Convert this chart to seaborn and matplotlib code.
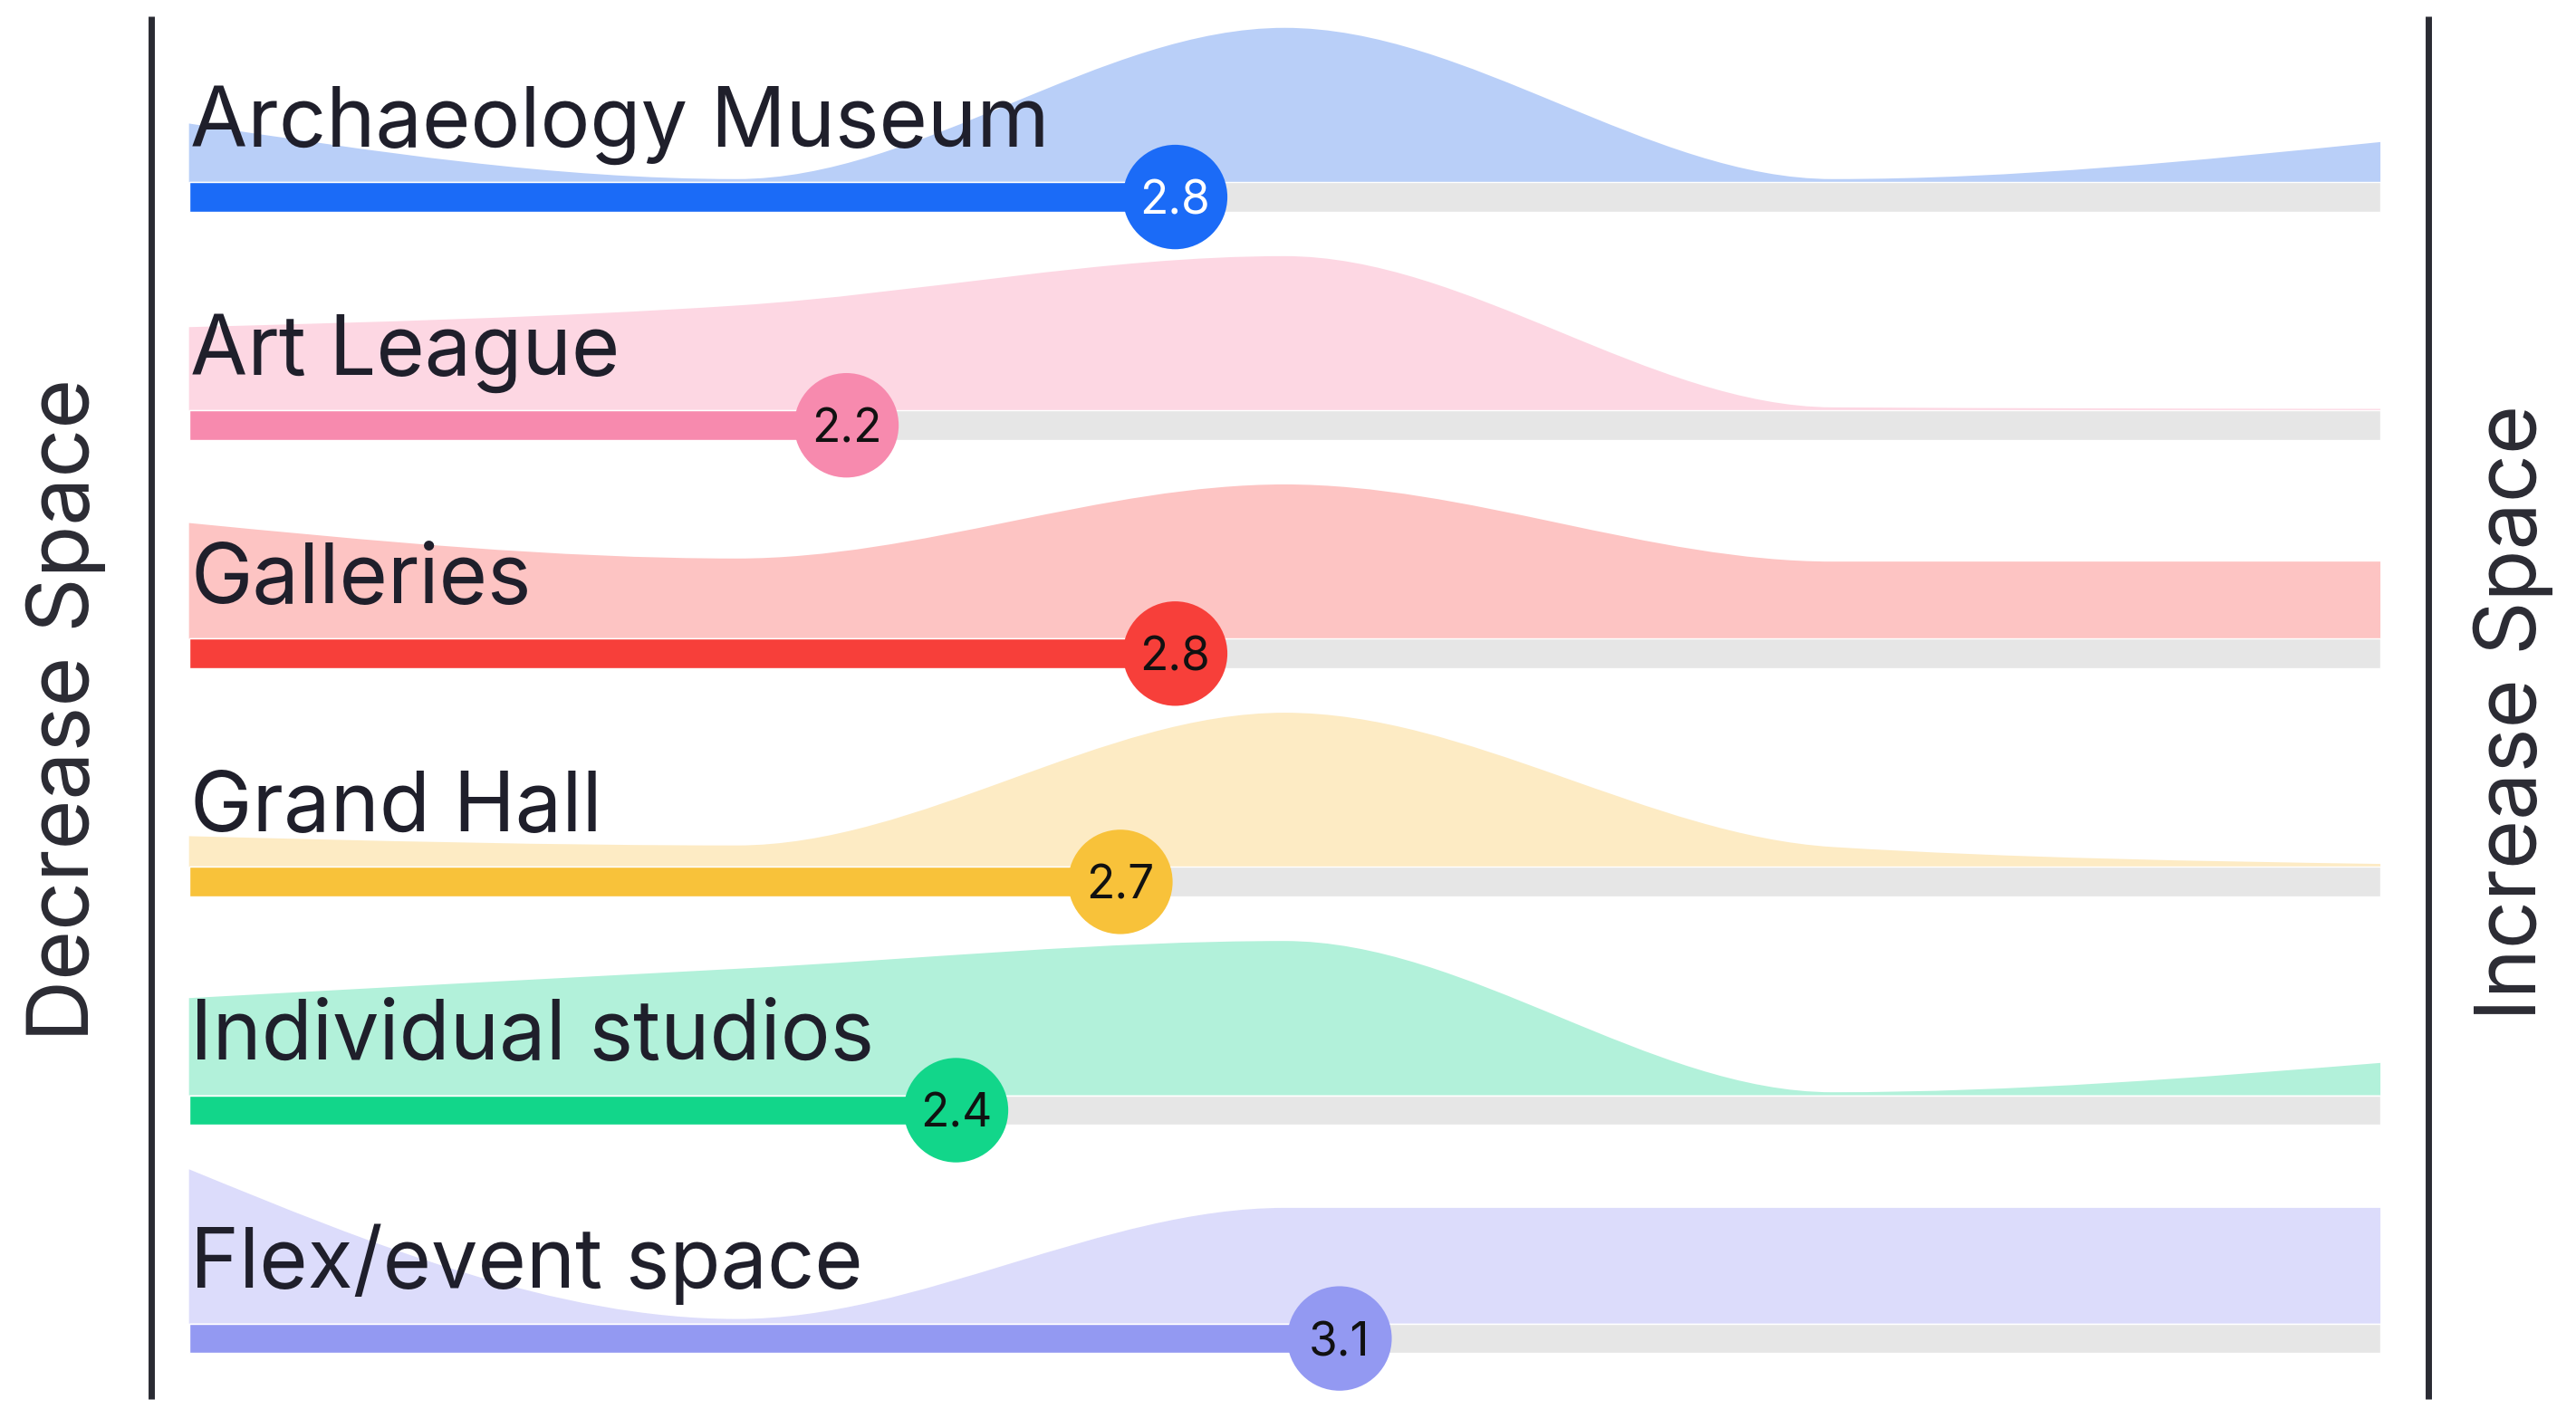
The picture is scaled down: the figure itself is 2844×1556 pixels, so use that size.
"""
Space survey ridge chart: rating distribution + mean score per space
"""

import numpy as np
import matplotlib
matplotlib.use("Agg")
import matplotlib.pyplot as plt
from matplotlib.path import Path
from matplotlib.patches import PathPatch
import seaborn as sns

# ---------- data ----------
spaces = ["Archaeology Museum", "Art League", "Galleries", "Grand Hall",
          "Individual studios", "Flex/event space"]
scores = [2.8, 2.2, 2.8, 2.7, 2.4, 3.1]
ratings = [1, 2, 3, 4, 5]

# share of answers per rating, scaled so the peak of each row = 100
archaeology = [38, 2, 100, 2, 26]
art_league = [54, 68, 100, 2, 1]
galleries = [75, 52, 100, 50, 50]
grand_hall = [20, 14, 100, 13, 2]
studios = [63, 82, 100, 2, 21]
flex_event = [100, 3, 75, 75, 75]
distributions = [archaeology, art_league, galleries, grand_hall, studios, flex_event]

bar_colors = ["#1b6bf7", "#f78aae", "#f73f3a", "#f8c23a", "#12d68a", "#9399f2"]
fill_colors = ["#b9cff8", "#fdd7e3", "#fdc4c3", "#fdebc4", "#b2f1da", "#dcdcfb"]
score_text_colors = ["white", "#111111", "#111111", "#111111", "#111111", "#111111"]

# ---------- style ----------
sns.set_theme(style="white")
plt.rcParams['font.family'] = ['Inter', 'DejaVu Sans']

TEXT = "#1f1f2b"
TRACK = "#e6e6e6"
BAR_H = 0.13        # bar thickness (row units)
RIDGE_H = 0.676     # max ridge height (row units)


def sgn(v):
    return -1.0 if v < 0 else 1.0


def monotone_ridge(xs, ys, base, scale):
    """closed bezier path through (xs, ys), monotone-x style tangents"""
    xs = np.asarray(xs, float)
    ys = base - np.asarray(ys, float) / 100 * scale
    n = len(xs)
    h = np.diff(xs)
    s = np.diff(ys) / h
    m = np.zeros(n)
    for i in range(1, n - 1):
        p = (s[i - 1] * h[i] + s[i] * h[i - 1]) / (h[i - 1] + h[i])
        m[i] = (sgn(s[i - 1]) + sgn(s[i])) * min(abs(s[i - 1]), abs(s[i]), 0.5 * abs(p))
    m[0] = (3 * s[0] - m[1]) / 2
    m[-1] = (3 * s[-1] - m[-2]) / 2

    verts = [(xs[0], base), (xs[0], ys[0])]
    codes = [Path.MOVETO, Path.LINETO]
    for i in range(n - 1):
        d = h[i] / 3
        verts += [(xs[i] + d, ys[i] + d * m[i]),
                  (xs[i + 1] - d, ys[i + 1] - d * m[i + 1]),
                  (xs[i + 1], ys[i + 1])]
        codes += [Path.CURVE4] * 3
    verts += [(xs[-1], base), (xs[0], base)]
    codes += [Path.LINETO, Path.CLOSEPOLY]
    return Path(verts, codes)


fig = plt.figure(figsize=(28.44, 15.56), dpi=100)
ax = fig.add_axes([0, 0, 1, 1])
lo, hi = ratings[0], ratings[-1]
ax.set_xlim(lo - 0.345, hi + 0.357)
ax.set_ylim(5.309, -0.863)
ax.axis("off")

rows = np.arange(len(spaces))

for i, dist in enumerate(distributions):
    base = rows[i] - BAR_H / 2
    ridge = monotone_ridge(ratings, dist, base, RIDGE_H)
    ax.add_patch(PathPatch(ridge, facecolor=fill_colors[i], edgecolor="none", zorder=1))

# grey track + colored progress bar
ax.barh(rows, width=hi - lo, left=lo, height=BAR_H, color=TRACK, zorder=2)
ax.barh(rows, width=np.array(scores) - lo, left=lo, height=BAR_H,
        color=bar_colors, zorder=3)

# score bubbles
sns.scatterplot(x=scores, y=rows, hue=spaces, palette=bar_colors, s=6900,
                linewidth=0, legend=False, ax=ax, zorder=4)
for i, sc in enumerate(scores):
    ax.text(sc, rows[i], f"{sc:.1f}", ha="center", va="center_baseline",
            fontsize=37, color=score_text_colors[i], zorder=5)

# row labels
for i, name in enumerate(spaces):
    ax.text(lo + 0.003, rows[i] - 0.223, name, ha="left", va="baseline",
            fontsize=66, color=TEXT, zorder=6)

# side rules and captions
ax.plot([lo - 0.069, lo - 0.069], [-0.79, 5.266], color="#2a2b33", lw=5, solid_capstyle="butt")
ax.plot([hi + 0.088, hi + 0.088], [-0.79, 5.266], color="#2a2b33", lw=5, solid_capstyle="butt")
fig.text(0.0255, 0.4965, "Decrease Space", rotation=90, ha="center", va="center",
         fontsize=68, color="#2b2b33")
fig.text(0.9758, 0.494, "Increase Space", rotation=90, ha="center", va="center",
         fontsize=67, color="#2b2b33")

fig.savefig("out.png", dpi=100)
